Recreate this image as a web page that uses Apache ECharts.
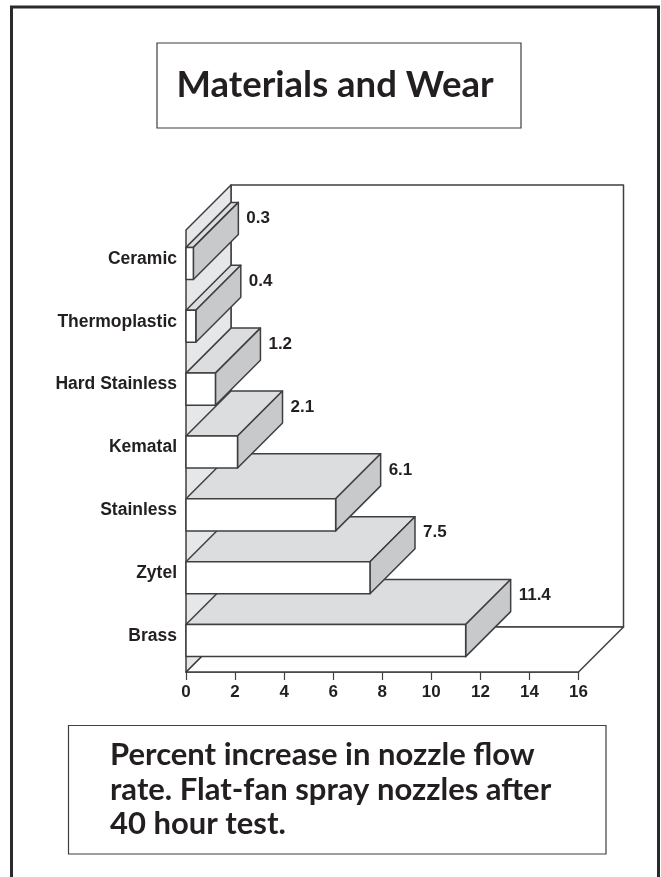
<!DOCTYPE html>
<html>
<head>
<meta charset="utf-8">
<style>
    html, body { margin: 0; padding: 0; background: #fff; }
    #chart { width: 661px; height: 877px; }
</style>
<script src="https://cdn.jsdelivr.net/npm/echarts@6/dist/echarts.min.js"></script>
</head>
<body>
<div id="chart"></div>
<script>
    // bottom to top (upper bars are painted over lower ones)
    const materials = ['Brass', 'Zytel', 'Stainless', 'Kematal', 'Hard Stainless', 'Thermoplastic', 'Ceramic'];
    const wearPercent = [11.4, 7.5, 6.1, 2.1, 1.2, 0.4, 0.3];

    const titleText = 'Materials and Wear';
    const captionLines = ['Percent increase in nozzle flow', 'rate. Flat-fan spray nozzles after', '40 hour test.'];

    const ink = '#231f20';
    const edge = '#3f3f41';
    const depth = 45; // 3d offset in px

    const chart = echarts.init(document.getElementById('chart'));

    function poly(points, fill) {
        return {
            type: 'polygon',
            shape: {points: points},
            style: {fill: fill, stroke: edge, lineWidth: 1.5, lineJoin: 'round'}
        };
    }

    function renderWalls(params, api) {
        const g = params.coordSys;
        const l = g.x, r = g.x + g.width, b = g.y + g.height, t = g.y - 2;
        return {
            type: 'group',
            children: [
                poly([[l + depth, t - depth], [r + depth, t - depth], [r + depth, b - depth], [l + depth, b - depth]], '#fff'),
                poly([[l, b], [r, b], [r + depth, b - depth], [l + depth, b - depth]], '#fff'),
                poly([[l, b], [l + depth, b - depth], [l + depth, t - depth], [l, t]], '#e6e7e8')
            ]
        };
    }

    function renderBar(params, api) {
        const value = api.value(0);
        const end = api.coord([value, api.value(1)]);
        const start = api.coord([0, api.value(1)]);
        const h = api.size([0, 1])[1] * 0.51;
        const x0 = start[0], x1 = end[0];
        const top = end[1] - h / 2, bottom = end[1] + h / 2;
        return {
            type: 'group',
            children: [
                poly([[x0, top], [x0 + depth, top - depth], [x1 + depth, top - depth], [x1, top]], '#dcddde'),
                poly([[x1, top], [x1 + depth, top - depth], [x1 + depth, bottom - depth], [x1, bottom]], '#c8c9cb'),
                poly([[x0, top], [x1, top], [x1, bottom], [x0, bottom]], '#fff'),
                {
                    type: 'text',
                    style: {
                        x: x1 + depth + 8,
                        y: end[1] - depth,
                        text: value.toFixed(1),
                        fill: ink,
                        font: 'bold 17px "Liberation Sans"',
                        textAlign: 'left',
                        textVerticalAlign: 'middle'
                    }
                }
            ]
        };
    }

    chart.setOption({
        animation: false,
        backgroundColor: '#fff',
        grid: {left: 186, right: 82.5, top: 232, bottom: 205},
        xAxis: {
            type: 'value',
            position: 'bottom',
            min: 0,
            max: 16,
            interval: 2,
            splitLine: {show: false},
            axisLine: {show: true, onZero: false, lineStyle: {color: edge, width: 1.5}},
            axisTick: {show: true, length: 8, lineStyle: {color: edge, width: 1.2}},
            axisLabel: {
                color: ink,
                fontFamily: 'Liberation Sans',
                fontWeight: 'bold',
                fontSize: 17,
                margin: 12
            }
        },
        yAxis: {
            type: 'category',
            data: materials,
            axisLine: {show: false},
            axisTick: {show: false},
            axisLabel: {
                color: ink,
                fontFamily: 'Liberation Sans',
                fontWeight: 'bold',
                fontSize: 17.5,
                margin: 9,
                verticalAlign: 'bottom',
                lineHeight: 9
            }
        },
        graphic: [
            {type: 'rect', z: 0, shape: {x: 11.5, y: 7, width: 647, height: 880}, style: {fill: 'none', stroke: '#2a2a2c', lineWidth: 3}},
            {type: 'rect', z: 0, shape: {x: 157, y: 43, width: 364, height: 85}, style: {fill: '#fff', stroke: edge, lineWidth: 1.2}},
            {type: 'text', z: 1, style: {x: 335, y: 85, text: titleText, fill: ink, font: 'bold 36.5px Lato', textAlign: 'center', textVerticalAlign: 'middle'}},
            {type: 'rect', z: 0, shape: {x: 68.5, y: 725.5, width: 537.5, height: 128.5}, style: {fill: '#fff', stroke: edge, lineWidth: 1.2}},
            {type: 'text', z: 1, style: {x: 110, y: 755, text: captionLines[0], fill: ink, font: 'bold 31px Lato', textAlign: 'left', textVerticalAlign: 'middle'}},
            {type: 'text', z: 1, style: {x: 110, y: 789.5, text: captionLines[1], fill: ink, font: 'bold 31px Lato', textAlign: 'left', textVerticalAlign: 'middle'}},
            {type: 'text', z: 1, style: {x: 110, y: 824, text: captionLines[2], fill: ink, font: 'bold 31px Lato', textAlign: 'left', textVerticalAlign: 'middle'}}
        ],
        series: [
            {type: 'custom', name: 'walls', renderItem: renderWalls, silent: true, z: 1, data: [[0, 0]], encode: {x: 0, y: 1}},
            {
                type: 'custom',
                name: 'wear',
                renderItem: renderBar,
                z: 3,
                encode: {x: 0, y: 1},
                data: wearPercent.map((v, i) => [v, i])
            }
        ]
    });
</script>
</body>
</html>
